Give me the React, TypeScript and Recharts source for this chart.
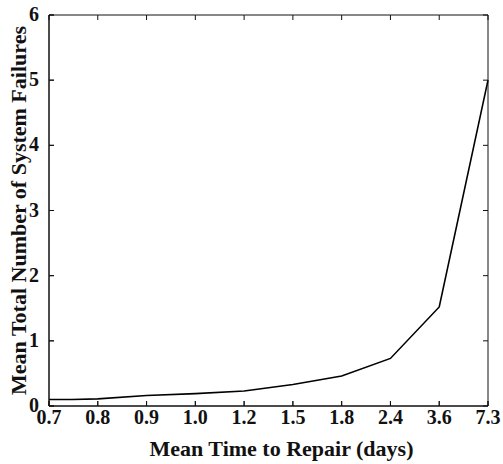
import React from 'react';
import { LineChart, Line, XAxis, YAxis, Label } from 'recharts';

const tickLabels = ['0.7', '0.8', '0.9', '1.0', '1.2', '1.5', '1.8', '2.4', '3.6', '7.3'];
const xPositions = [0, 0.47, 1, 2, 3, 4, 5, 6, 7, 8, 9];
const failures = [0.1, 0.1, 0.11, 0.16, 0.19, 0.23, 0.33, 0.46, 0.73, 1.52, 5.0];
const yTicks = [0, 1, 2, 3, 4, 5, 6];

const data = xPositions.map((x, i) => ({ x, y: failures[i] }));
const xTicks = tickLabels.map((_, i) => i);
const X_MAX = xTicks[xTicks.length - 1];
const Y_MAX = yTicks[yTicks.length - 1];

// frame edges (top and right) with inward tick marks at the axis ticks
const topEdge = xTicks.map((t) => ({ x: t, y: Y_MAX }));
const rightEdge = yTicks.map((t) => ({ x: X_MAX, y: t }));
const bottomEdge = xTicks.map((t) => ({ x: t, y: 0 }));
const leftEdge = yTicks.map((t) => ({ x: 0, y: t }));

const FONT = '"Liberation Serif", "Times New Roman", serif';
const AXIS = '#111';
const TICK_LEN = 5;

const makeTick = (dx: number, dy: number) => (p: any) => (
  <line
    key={'tk' + p.index + '-' + dx + '-' + dy}
    x1={p.cx}
    y1={p.cy}
    x2={p.cx + dx}
    y2={p.cy + dy}
    stroke={AXIS}
    strokeWidth={1}
  />
);

const XTick = (props: any) => {
  const { x, y, payload } = props;
  return (
    <text x={x} y={y} dy={17} textAnchor="middle" fontFamily={FONT} fontWeight={700} fontSize={20} fill="#111">
      {tickLabels[payload.value]}
    </text>
  );
};

const YTick = (props: any) => {
  const { x, y, payload } = props;
  return (
    <text x={x} y={y} dy={6} textAnchor="end" fontFamily={FONT} fontWeight={700} fontSize={20} fill="#111">
      {payload.value}
    </text>
  );
};

export default function App() {
  return (
    <div style={{ position: 'absolute', left: 0, top: 0 }}>
      <LineChart width={503} height={464} data={data} margin={{ top: 15, right: 15, bottom: 0, left: 0 }}>
        <XAxis
          type="number"
          dataKey="x"
          domain={[0, X_MAX]}
          ticks={xTicks}
          interval={0}
          height={58}
          tickSize={-TICK_LEN}
          tickMargin={6}
          stroke={AXIS}
          tick={<XTick />}
        >
          <Label value="Mean Time to Repair (days)" position="insideBottom" offset={8} dx={13} style={{ fill: '#111', fontSize: 22, fontFamily: FONT, fontWeight: 700 }} />
        </XAxis>
        <YAxis
          domain={[0, Y_MAX]}
          ticks={yTicks}
          interval={0}
          width={49}
          tickSize={-TICK_LEN}
          tickMargin={15}
          stroke={AXIS}
          tick={<YTick />}
        >
          <Label value="Mean Total Number of System Failures" angle={-90} position="center" dx={-6} style={{ fill: '#111', fontSize: 22, fontFamily: FONT, fontWeight: 700, textAnchor: 'middle' }} />
        </YAxis>
        <Line data={topEdge} dataKey="y" type="linear" stroke={AXIS} strokeWidth={1} dot={makeTick(0, TICK_LEN)} activeDot={false} legendType="none" isAnimationActive={false} />
        <Line data={rightEdge} dataKey="y" type="linear" stroke={AXIS} strokeWidth={1} dot={makeTick(-TICK_LEN, 0)} activeDot={false} legendType="none" isAnimationActive={false} />
        <Line data={bottomEdge} dataKey="y" type="linear" stroke={AXIS} strokeWidth={1} dot={makeTick(0, -TICK_LEN)} activeDot={false} legendType="none" isAnimationActive={false} />
        <Line data={leftEdge} dataKey="y" type="linear" stroke={AXIS} strokeWidth={1} dot={makeTick(TICK_LEN, 0)} activeDot={false} legendType="none" isAnimationActive={false} />
        <Line
          type="linear"
          dataKey="y"
          stroke="#000"
          strokeWidth={1.6}
          dot={false}
          activeDot={false}
          isAnimationActive={false}
        />
      </LineChart>
    </div>
  );
}
